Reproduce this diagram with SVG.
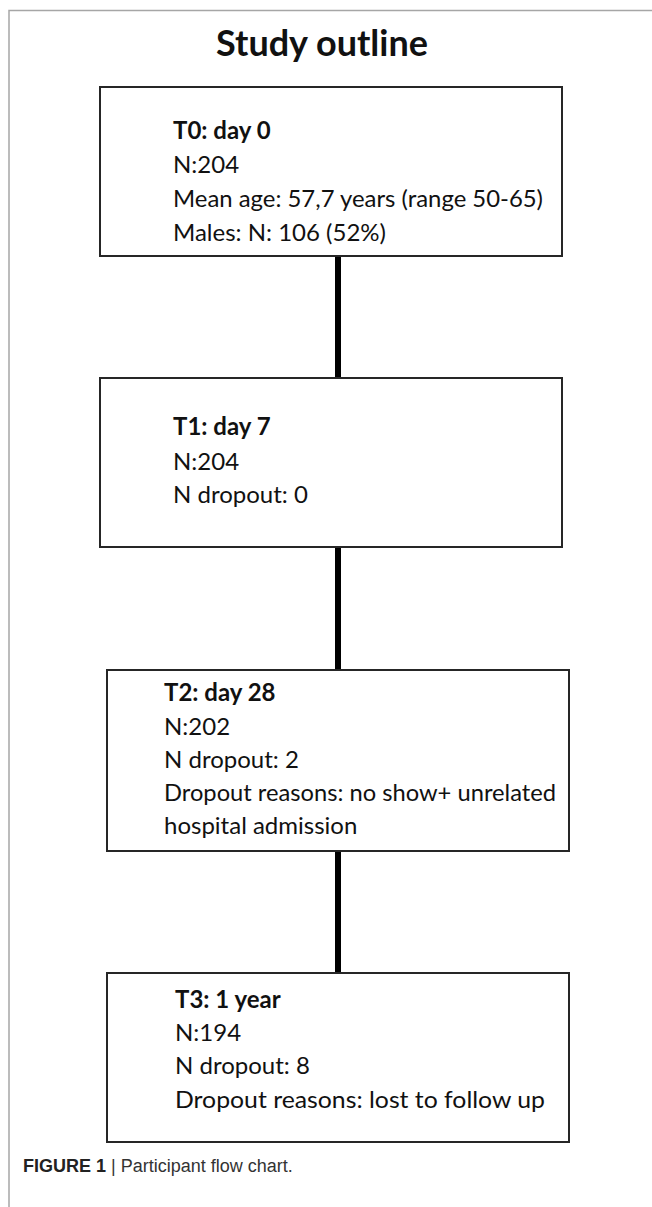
<svg xmlns="http://www.w3.org/2000/svg" width="652" height="1207" viewBox="0 0 652 1207">
<style>
.frame{fill:none;stroke:#a6a6a6;stroke-width:1.5}
.box{fill:#fff;stroke:#262626;stroke-width:2}
.conn{stroke:#000;stroke-width:6;fill:none}
.t{font-family:Lato,"Open Sans",sans-serif;font-size:24px;fill:#111}
.b{font-weight:bold}
.title{font-family:Lato,"Open Sans",sans-serif;font-size:36px;font-weight:bold;fill:#111}
.cap{font-family:"Liberation Sans",Arial,sans-serif;font-size:18px;fill:#333}
</style>
<rect width="652" height="1207" fill="#fff"/>
<path class="frame" d="M9,1207 V10.5 H652"/>
<text class="title" x="322" y="56" text-anchor="middle">Study outline</text>
<g id="connectors">
<line class="conn" x1="338" y1="256" x2="338" y2="378"/>
<line class="conn" x1="338" y1="547" x2="338" y2="670"/>
<line class="conn" x1="338" y1="851" x2="338" y2="973"/>
</g>
<g id="t0">
<rect class="box" x="100" y="87" width="462" height="169"/>
<text class="t b" x="173" y="139">T0: day 0</text>
<text class="t" x="173" y="173">N:204</text>
<text class="t" x="173" y="207" textLength="370" lengthAdjust="spacingAndGlyphs">Mean age: 57,7 years (range 50-65)</text>
<text class="t" x="173" y="241">Males: N: 106 (52%)</text>
</g>
<g id="t1">
<rect class="box" x="100" y="378" width="462" height="169"/>
<text class="t b" x="173" y="435">T1: day 7</text>
<text class="t" x="173" y="470">N:204</text>
<text class="t" x="173" y="503">N dropout: 0</text>
</g>
<g id="t2">
<rect class="box" x="107" y="670" width="462" height="181"/>
<text class="t b" x="164" y="701">T2: day 28</text>
<text class="t" x="164" y="735">N:202</text>
<text class="t" x="164" y="768">N dropout: 2</text>
<text class="t" x="164" y="801" textLength="392" lengthAdjust="spacingAndGlyphs">Dropout reasons: no show+ unrelated</text>
<text class="t" x="164" y="834">hospital admission</text>
</g>
<g id="t3">
<rect class="box" x="107" y="973" width="462" height="169"/>
<text class="t b" x="175" y="1008">T3: 1 year</text>
<text class="t" x="175" y="1041">N:194</text>
<text class="t" x="175" y="1074">N dropout: 8</text>
<text class="t" x="175" y="1108" textLength="370" lengthAdjust="spacingAndGlyphs">Dropout reasons: lost to follow up</text>
</g>
<text class="cap" x="23" y="1172"><tspan font-weight="bold" fill="#222">FIGURE 1</tspan> | Participant flow chart.</text>
</svg>
